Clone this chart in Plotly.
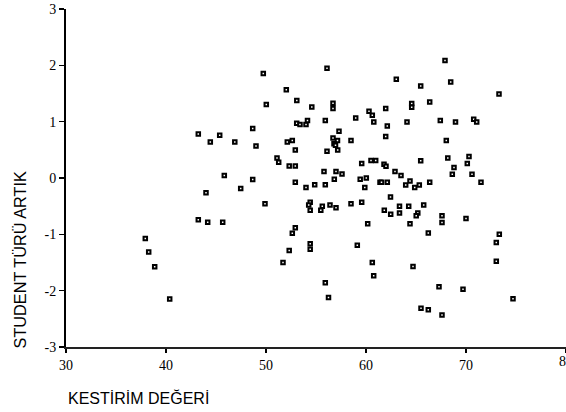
import plotly.graph_objects as go

predicted = [
    49.73, 56.10, 52.03, 53.08, 50.03, 54.58, 56.70, 56.70, 60.30, 60.63,
    58.97, 60.78, 53.07, 53.40, 54.00, 54.15, 55.93, 43.23, 44.43, 45.37,
    46.88, 48.67, 49.00, 52.13, 52.63, 57.30, 56.70, 57.15, 56.80, 56.95,
    58.50, 52.93, 56.10, 57.17, 51.10, 51.27, 52.32, 52.93, 59.57, 60.50,
    60.97, 45.83, 48.67, 55.80, 57.00, 57.60, 56.83, 59.42, 60.03, 61.40,
    52.93, 54.00, 54.87, 55.93, 59.88, 44.00, 47.47, 67.90, 63.03, 65.47,
    68.47, 73.30, 66.37, 64.57, 64.57, 61.97, 62.13, 64.10, 67.43, 68.95,
    70.77, 71.07, 61.97, 68.03, 61.80, 62.00, 65.47, 68.18, 70.30, 70.13,
    68.80, 62.90, 63.50, 68.63, 70.60, 61.55, 62.13, 64.40, 63.97, 64.87,
    65.33, 66.37, 71.50, 62.45, 37.93, 38.27, 38.87, 40.37, 43.23, 44.17,
    45.67, 49.90, 54.42, 54.27, 54.42, 55.63, 55.48, 56.40, 57.00, 58.50,
    59.57, 52.93, 52.63, 60.17, 54.42, 54.42, 52.32, 59.13, 51.70, 60.63,
    60.77, 55.93, 56.25, 61.83, 62.47, 63.35, 63.35, 64.27, 65.77, 65.18,
    65.02, 64.40, 67.60, 67.60, 70.00, 66.23, 73.33, 73.03, 73.03, 64.70,
    67.30, 69.70, 74.70, 65.50, 66.23, 67.60,
]

residual = [
    1.854, 1.948, 1.567, 1.377, 1.306, 1.259, 1.327, 1.233, 1.185, 1.114,
    1.066, 0.995, 0.972, 0.948, 0.948, 1.020, 1.020, 0.782, 0.639, 0.758,
    0.639, 0.877, 0.568, 0.639, 0.664, 0.829, 0.710, 0.664, 0.607, 0.581,
    0.664, 0.497, 0.474, 0.497, 0.355, 0.279, 0.211, 0.211, 0.256, 0.309,
    0.309, 0.044, -0.027, 0.115, 0.115, 0.069, -0.023, -0.023, -0.002, -0.076,
    -0.076, -0.169, -0.121, -0.121, -0.169, -0.263, -0.188, 2.085, 1.753, 1.634,
    1.705, 1.492, 1.350, 1.323, 1.256, 1.233, 0.924, 0.995, 1.020, 0.995,
    1.043, 0.995, 0.735, 0.664, 0.243, 0.208, 0.306, 0.355, 0.380, 0.256,
    0.185, 0.114, 0.043, 0.066, 0.066, -0.076, -0.076, -0.053, -0.124, -0.169,
    -0.124, -0.076, -0.076, -0.337, -1.075, -1.314, -1.574, -2.146, -0.739, -0.787,
    -0.787, -0.455, -0.432, -0.480, -0.574, -0.503, -0.574, -0.480, -0.526, -0.455,
    -0.432, -0.885, -0.979, -0.810, -1.169, -1.263, -1.288, -1.192, -1.501, -1.501,
    -1.737, -1.858, -2.123, -0.574, -0.645, -0.503, -0.623, -0.503, -0.480, -0.623,
    -0.668, -0.810, -0.668, -0.790, -0.719, -0.977, -1.000, -1.146, -1.476, -1.572,
    -1.932, -1.977, -2.142, -2.314, -2.337, -2.433,
]

x_ticks = [30, 40, 50, 60, 70, 80]
y_ticks = [-3, -2, -1, 0, 1, 2, 3]

fig = go.Figure()
fig.add_trace(go.Scatter(
    x=predicted, y=residual, mode="markers",
    marker=dict(symbol="square", size=3.5, color="white",
                line=dict(color="black", width=2)),
    showlegend=False, cliponaxis=False, hoverinfo="skip",
))

tick_font = dict(family="'Liberation Serif', 'Times New Roman', serif", size=14, color="black")
title_font = dict(family="'Liberation Sans', Arial, sans-serif", size=16, color="black")

annotations = [
    dict(text="STUDENT TÜRÜ ARTIK", xref="paper", yref="paper",
         x=-0.092, y=0.256, xanchor="center", yanchor="middle",
         textangle=-90, showarrow=False,
         font=dict(family="'Liberation Sans', Arial, sans-serif", size=16.3, color="black")),
    dict(text="KESTİRİM DEĞERİ", xref="paper", yref="paper",
         x=0, y=-0.151, xanchor="left", yanchor="middle", showarrow=False,
         font=title_font),
    # last x tick label, cut by the right edge as in the reference
    dict(text=str(x_ticks[-1]), xref="x", yref="paper",
         x=x_ticks[-1], y=-0.0435, xanchor="center", yanchor="middle",
         showarrow=False, font=tick_font),
]

fig.update_layout(
    width=566, height=412,
    margin=dict(l=66, r=0, t=9, b=65),
    paper_bgcolor="white", plot_bgcolor="white",
    xaxis=dict(range=[30, 80], tickvals=x_ticks, ticktext=[str(v) for v in x_ticks],
               showgrid=False, zeroline=False, showline=True, linecolor="#222",
               linewidth=2, ticks="outside", ticklen=4, tickwidth=1.5,
               tickcolor="black", tickfont=tick_font),
    yaxis=dict(range=[-3, 3], tickvals=y_ticks, ticktext=[str(v) for v in y_ticks],
               showgrid=False, zeroline=False, showline=True, linecolor="black",
               linewidth=2, ticks="outside", ticklen=5, tickwidth=1.5,
               tickcolor="black", tickfont=tick_font),
    annotations=annotations,
)

fig.write_html(
    "out.html",
    config={"displayModeBar": False, "staticPlot": True},
    post_script="document.body.style.margin='0';document.body.style.overflow='hidden';",
)
